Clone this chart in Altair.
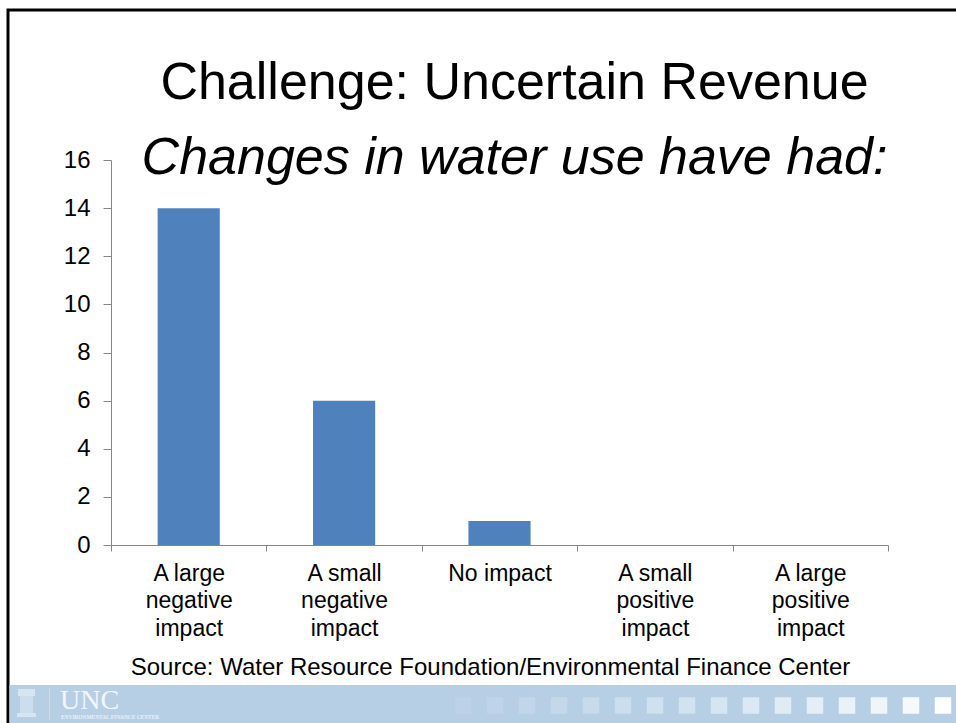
import altair as alt
import pandas as pd

# ---- chart data ----
categories = [
    "A large negative impact",
    "A small negative impact",
    "No impact",
    "A small positive impact",
    "A large positive impact",
]
counts = [14, 6, 1, 0, 0]
y_ticks = [0, 2, 4, 6, 8, 10, 12, 14, 16]

title_text = "Challenge: Uncertain Revenue"
subtitle_text = "Changes in water use have had:"
source_text = "Source: Water Resource Foundation/Environmental Finance Center"
banner_name = "UNC"
banner_sub = "ENVIRONMENTAL FINANCE CENTER"
square_opacity = [0.08, 0.12, 0.16, 0.20, 0.25, 0.30, 0.35, 0.40,
                  0.46, 0.52, 0.58, 0.64, 0.71, 0.78, 0.88, 0.97]

FONT = "Liberation Sans"
BLUE = "#4F81BD"
AXIS_GRAY = "#868686"
BANNER = "#B6CFE5"

W, H = 777, 385
PAD = {"left": 111, "top": 160, "right": 68, "bottom": 178}

df = pd.DataFrame({"category": categories, "count": counts})

label_expr = (
    "length(split(datum.label, ' ')) == 4 ? "
    "[split(datum.label, ' ')[0] + ' ' + split(datum.label, ' ')[1], "
    "split(datum.label, ' ')[2], split(datum.label, ' ')[3]] : datum.label"
)

bars = alt.Chart(df).mark_bar(
    color=BLUE, width=alt.RelativeBandSize(0.4)
).encode(
    x=alt.X(
        "category:N",
        sort=categories,
        scale=alt.Scale(paddingInner=0, paddingOuter=0),
        axis=alt.Axis(
            title=source_text,
            titleFont=FONT,
            titleFontSize=24,
            titleFontWeight="normal",
            titleColor="black",
            titlePadding=15,
            titleX=379,
            titleAlign="center",
            labelAngle=0,
            labelFont=FONT,
            labelFontSize=23,
            labelColor="black",
            labelLineHeight=27.5,
            labelPadding=11,
            labelExpr=label_expr,
            tickBand="extent",
            tickSize=6,
            tickColor=AXIS_GRAY,
            domainColor=AXIS_GRAY,
            labelOverlap=False,
        ),
    ),
    y=alt.Y(
        "count:Q",
        scale=alt.Scale(domain=[0, 16], nice=False),
        axis=alt.Axis(
            title=None,
            values=y_ticks,
            grid=False,
            labelFont=FONT,
            labelFontSize=24,
            labelColor="black",
            labelPadding=13,
            tickSize=8,
            tickColor=AXIS_GRAY,
            domainColor=AXIS_GRAY,
        ),
    ),
)

one = alt.Data(values=[{"k": 1}])
L, T = PAD["left"], PAD["top"]

# slide frame (left and top edges visible)
frame = alt.Chart(one).mark_rect(
    fillOpacity=0, stroke="black", strokeWidth=3
).encode(
    x=alt.value(8 - L), x2=alt.value(970 - L),
    y=alt.value(10 - T), y2=alt.value(740 - T),
)

# bottom banner
banner = alt.Chart(one).mark_rect(color=BANNER).encode(
    x=alt.value(9.5 - L), x2=alt.value(956 - L),
    y=alt.value(685 - T), y2=alt.value(723 - T),
)

logo_base = alt.Chart(one).mark_rect(color="white", opacity=0.45).encode(
    x=alt.value(17 - L), x2=alt.value(36 - L),
    y=alt.value(713 - T), y2=alt.value(717 - T),
)
logo_top = alt.Chart(one).mark_rect(color="white", opacity=0.45).encode(
    x=alt.value(18 - L), x2=alt.value(35 - L),
    y=alt.value(689 - T), y2=alt.value(696 - T),
)
logo_cols = alt.Chart(one).mark_rect(color="white", opacity=0.3).encode(
    x=alt.value(20 - L), x2=alt.value(33 - L),
    y=alt.value(696 - T), y2=alt.value(713 - T),
)
sep = alt.Chart(one).mark_rect(color="white", opacity=0.3).encode(
    x=alt.value(49 - L), x2=alt.value(50 - L),
    y=alt.value(688 - T), y2=alt.value(720 - T),
)

unc = alt.Chart(one).mark_text(
    text=banner_name, font="Liberation Serif", fontSize=28, color="#F2F6FB",
    align="left", baseline="alphabetic",
).encode(x=alt.value(60 - L), y=alt.value(709 - T))

efc = alt.Chart(one).mark_text(
    text=banner_sub, font="Liberation Serif", fontSize=5.4, fontWeight="bold",
    color="#EAF1F8", align="left", baseline="alphabetic",
).encode(x=alt.value(61 - L), y=alt.value(719 - T))

sq_df = pd.DataFrame({"i": list(range(len(square_opacity))), "op": square_opacity})
squares = alt.Chart(sq_df).mark_point(
    shape="square", filled=True, color="white", size=272, strokeWidth=0
).encode(
    x=alt.X("i:Q", scale=alt.Scale(domain=[0, 15], range=[352, 832]), axis=None),
    y=alt.value(705.5 - T),
    opacity=alt.Opacity("op:Q", scale=None, legend=None),
)

chart = alt.layer(
    frame, banner, logo_base, logo_top, logo_cols, sep, unc, efc, squares, bars
).resolve_scale(
    x="independent"
).properties(
    width=W,
    height=H,
    padding=PAD,
    autosize=alt.AutoSizeParams(type="none"),
    background="white",
    title=alt.TitleParams(
        text=title_text,
        subtitle=subtitle_text,
        font=FONT,
        fontSize=52,
        fontWeight="normal",
        color="black",
        subtitleFont=FONT,
        subtitleFontSize=52,
        subtitleFontStyle="italic",
        subtitleColor="black",
        subtitlePadding=23,
        anchor="middle",
        dx=15,
        offset=-176,
    ),
).configure_view(stroke=None)

chart.save("out.html", embed_options={"renderer": "svg", "actions": False})
